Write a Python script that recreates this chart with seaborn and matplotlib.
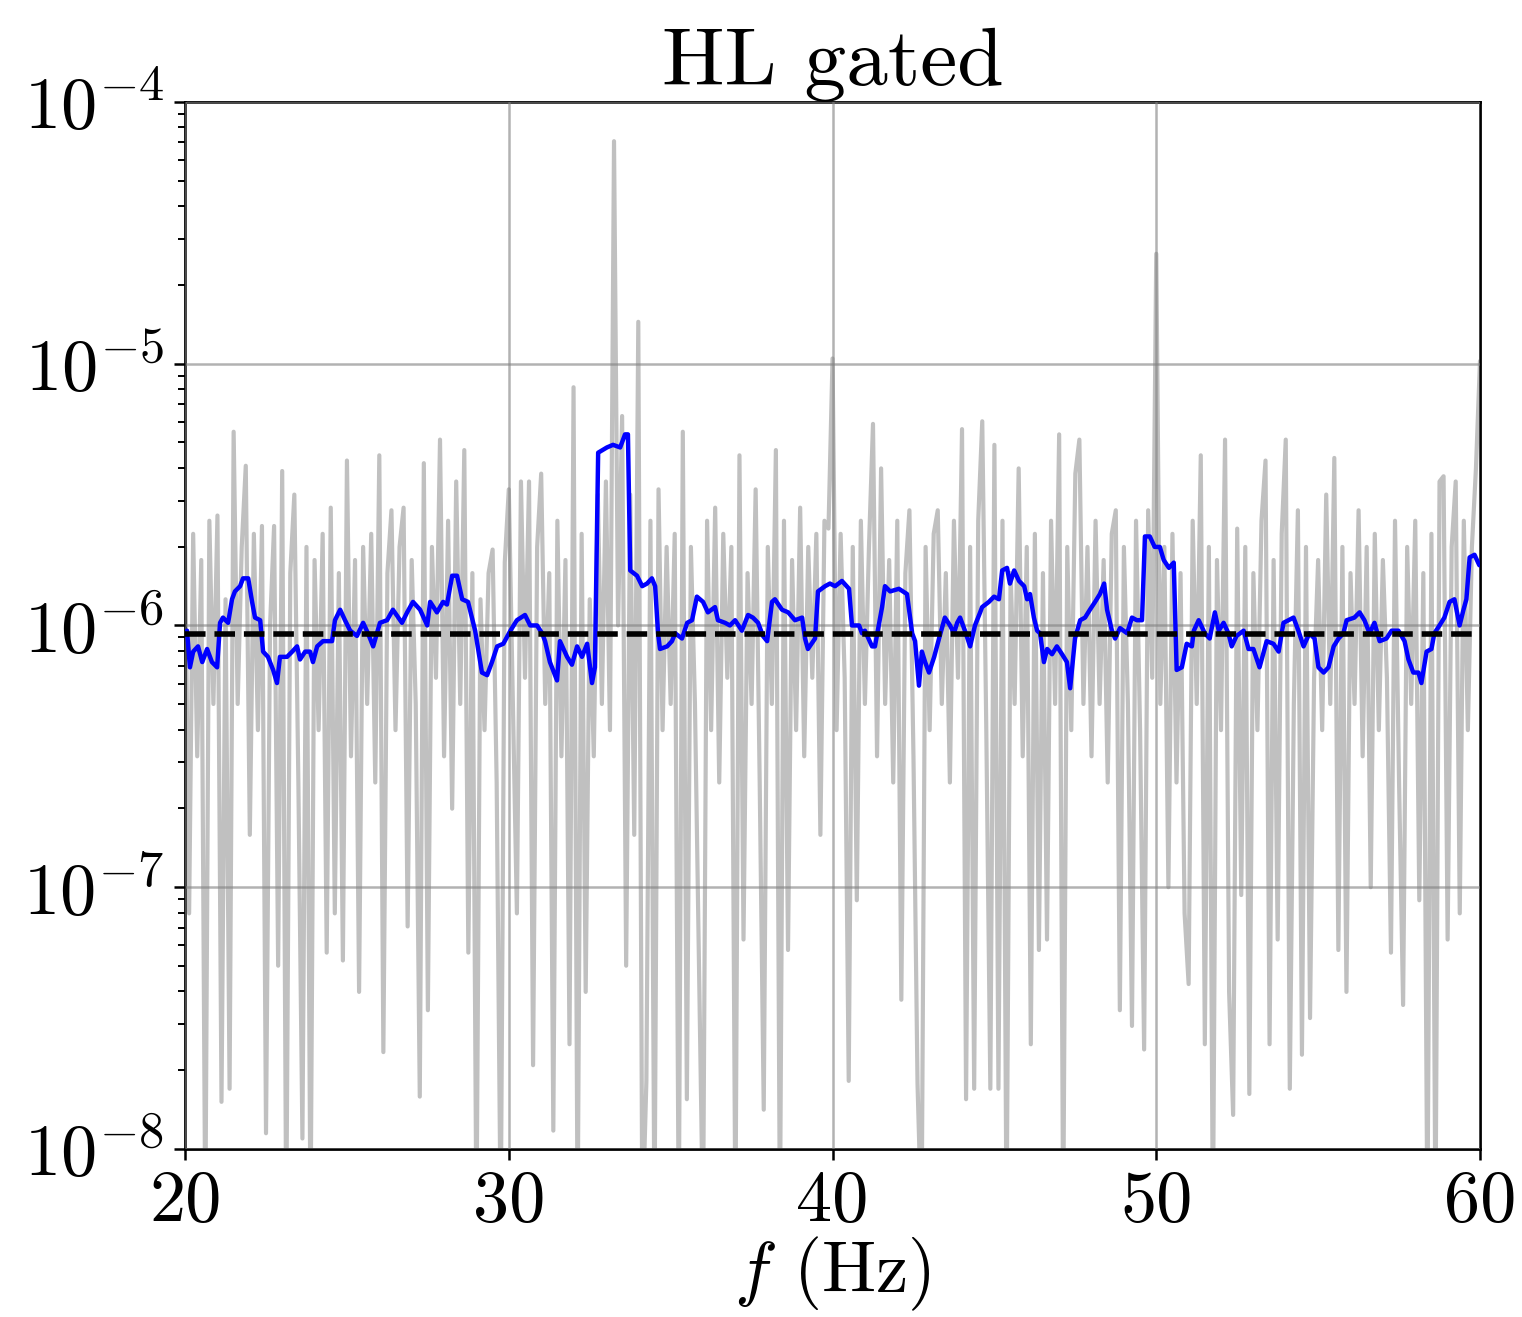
import numpy as np
import pandas as pd
import matplotlib
matplotlib.use("Agg")
import matplotlib.pyplot as plt
import seaborn as sns

# ---------------- data ----------------
# gray: log10 of spectrum, 8 samples per Hz from 20 Hz to 60 Hz
gray_log10 = [
    -5.70, -7.10, -5.65, -6.50, -5.75, -8.30, -5.60, -6.30,   # 20
    -5.58, -7.82, -5.90, -7.77, -5.26, -6.30, -5.70, -5.39,   # 21
    -6.80, -5.65, -6.40, -5.62, -7.94, -6.00, -5.62, -7.30,   # 22
    -5.41, -8.30, -5.80, -5.50, -6.60, -7.96, -5.70, -8.30,   # 23
    -5.75, -6.40, -5.65, -7.25, -5.55, -7.10, -5.80, -7.28,   # 24
    -5.37, -6.50, -5.75, -7.40, -5.70, -6.30, -5.65, -6.60,   # 25
    -5.35, -7.63, -5.80, -5.56, -6.40, -5.70, -5.55, -7.15,   # 26
    -5.75, -6.30, -7.80, -5.38, -7.47, -5.70, -6.20, -5.29,   # 27
    -6.50, -5.60, -6.70, -5.45, -6.30, -5.33, -7.25, -5.80,   # 28
    -8.30, -5.90, -6.40, -5.80, -5.71, -6.60, -8.30, -5.76,   # 29
    -5.48, -6.30, -7.10, -5.45, -6.20, -5.45, -7.68, -5.70,   # 30
    -5.42, -6.30, -5.80, -7.93, -5.60, -6.50, -5.75, -7.60,   # 31
    -5.09, -8.30, -5.65, -7.40, -5.90, -6.50, -5.50, -6.30,   # 32
    -5.45, -6.40, -4.15, -6.00, -5.20, -7.30, -5.50, -6.80,   # 33
    -4.84, -8.30, -7.74, -5.60, -8.30, -5.48, -6.40, -5.70,   # 34
    -6.30, -5.65, -8.30, -5.26, -7.81, -5.70, -6.30, -7.30,   # 35
    -8.30, -5.60, -6.40, -5.55, -6.60, -5.65, -6.20, -5.70,   # 36
    -8.30, -5.35, -7.20, -5.80, -6.30, -5.48, -6.60, -7.85,   # 37
    -5.70, -6.30, -5.33, -8.30, -5.60, -7.24, -5.75, -6.40,   # 38
    -5.55, -6.50, -5.70, -6.20, -5.65, -6.80, -5.60, -5.63,   # 39
    -4.98, -6.40, -5.65, -6.20, -7.74, -5.70, -7.05, -5.60,   # 40
    -6.30, -5.70, -5.23, -6.50, -5.40, -6.30, -5.75, -6.60,   # 41
    -5.60, -7.43, -5.80, -5.56, -6.50, -7.75, -8.30, -5.70,   # 42
    -6.40, -5.65, -5.56, -6.30, -5.80, -6.60, -5.60, -6.20,   # 43
    -5.25, -7.81, -5.70, -7.77, -5.60, -5.22, -6.40, -7.77,   # 44
    -5.31, -7.77, -5.60, -8.30, -5.80, -6.30, -5.40, -6.50,   # 45
    -5.70, -7.60, -5.65, -7.24, -5.80, -7.20, -5.60, -6.30,   # 46
    -5.27, -8.30, -5.70, -6.40, -5.42, -5.29, -6.30, -5.70,   # 47
    -6.50, -5.60, -6.30, -5.75, -6.60, -5.65, -5.56, -7.47,   # 48
    -5.70, -6.30, -7.53, -5.60, -6.40, -7.62, -5.56, -6.20,   # 49
    -4.58, -6.30, -5.70, -7.00, -5.65, -6.60, -5.80, -7.10,   # 50
    -7.37, -5.60, -6.30, -5.35, -7.60, -5.70, -8.30, -5.75,   # 51
    -6.40, -5.29, -7.40, -7.87, -5.63, -7.03, -5.70, -7.79,   # 52
    -5.80, -6.40, -5.60, -5.37, -7.60, -5.75, -7.20, -5.65,   # 53
    -5.29, -7.77, -6.30, -5.56, -7.64, -5.70, -7.50, -6.20,   # 54
    -5.75, -6.40, -5.50, -6.30, -5.36, -7.24, -5.70, -7.40,   # 55
    -5.80, -6.30, -5.56, -6.50, -5.70, -7.00, -5.65, -6.40,   # 56
    -5.75, -6.20, -7.25, -5.60, -6.60, -7.45, -5.70, -6.30,   # 57
    -5.60, -7.05, -5.80, -8.30, -5.65, -8.30, -5.45, -5.43,   # 58
    -7.20, -5.70, -5.45, -7.10, -5.60, -6.40, -5.70, -5.40,   # 59
    -4.99,                                                     # 60
]
gray_freq = np.linspace(20.0, 60.0, len(gray_log10))

# blue: running average (frequency in Hz, log10 value)
blue_freq = [
    20.06, 20.15, 20.25, 20.40, 20.53, 20.68, 20.83, 20.99, 21.08, 21.17,
    21.33, 21.45, 21.54, 21.70, 21.79, 21.95, 22.07, 22.16, 22.32, 22.41,
    22.56, 22.72, 22.84, 22.93, 23.15, 23.31, 23.46, 23.55, 23.71, 23.86,
    23.95, 24.08, 24.26, 24.54, 24.63, 24.79, 24.94, 25.10, 25.31, 25.50,
    25.65, 25.81, 26.02, 26.24, 26.42, 26.70, 26.86, 27.04, 27.26, 27.48,
    27.57, 27.78, 27.97, 28.09, 28.25, 28.40, 28.56, 28.74, 28.96, 29.17,
    29.33, 29.48, 29.64, 29.83, 30.05, 30.25, 30.50, 30.66, 30.87, 31.03,
    31.12, 31.27, 31.49, 31.58, 31.80, 31.95, 32.11, 32.26, 32.42, 32.57,
    32.66, 32.76, 33.03, 33.22, 33.44, 33.59, 33.68, 33.75, 33.96, 34.12,
    34.27, 34.42, 34.52, 34.61, 34.67, 34.89, 35.04, 35.14, 35.35, 35.51,
    35.66, 35.81, 36.00, 36.15, 36.37, 36.46, 36.68, 36.83, 36.99, 37.20,
    37.39, 37.54, 37.70, 37.85, 37.98, 38.13, 38.22, 38.44, 38.63, 38.84,
    39.06, 39.15, 39.24, 39.46, 39.55, 39.77, 39.92, 40.08, 40.29, 40.51,
    40.60, 40.82, 40.91, 41.00, 41.22, 41.31, 41.53, 41.62, 41.78, 42.05,
    42.30, 42.46, 42.55, 42.67, 42.76, 42.86, 42.98, 43.14, 43.29, 43.47,
    43.63, 43.75, 43.85, 43.94, 44.09, 44.25, 44.40, 44.56, 44.62, 44.83,
    44.99, 45.14, 45.24, 45.39, 45.48, 45.61, 45.76, 45.92, 46.01, 46.10,
    46.22, 46.32, 46.41, 46.53, 46.63, 46.78, 46.93, 47.09, 47.24, 47.34,
    47.49, 47.65, 47.80, 47.95, 48.11, 48.26, 48.39, 48.48, 48.63, 48.73,
    48.88, 49.10, 49.25, 49.40, 49.56, 49.65, 49.80, 49.95, 50.11, 50.23,
    50.39, 50.54, 50.63, 50.79, 50.94, 51.10, 51.16, 51.31, 51.50, 51.65,
    51.81, 51.93, 52.08, 52.23, 52.33, 52.48, 52.70, 52.85, 53.00, 53.19,
    53.41, 53.62, 53.78, 53.93, 54.24, 54.39, 54.55, 54.73, 54.89, 55.01,
    55.17, 55.32, 55.48, 55.63, 55.78, 55.88, 56.12, 56.28, 56.43, 56.59,
    56.74, 56.90, 57.11, 57.27, 57.48, 57.67, 57.79, 57.94, 58.10, 58.19,
    58.35, 58.50, 58.59, 58.75, 58.90, 59.06, 59.21, 59.37, 59.49, 59.58,
    59.68, 59.83, 59.98,
]
blue_log10 = [
    -6.02, -6.16, -6.10, -6.08, -6.14, -6.09, -6.14, -6.16, -5.99, -5.97,
    -5.99, -5.90, -5.87, -5.85, -5.82, -5.82, -5.91, -5.97, -5.98, -6.10,
    -6.12, -6.17, -6.22, -6.12, -6.12, -6.10, -6.08, -6.13, -6.10, -6.10,
    -6.14, -6.08, -6.06, -6.06, -5.98, -5.94, -5.98, -6.02, -6.04, -5.99,
    -6.03, -6.08, -5.99, -5.98, -5.94, -5.99, -5.95, -5.91, -5.94, -6.00,
    -5.91, -5.95, -5.91, -5.92, -5.81, -5.81, -5.90, -5.91, -6.02, -6.18,
    -6.19, -6.14, -6.08, -6.07, -6.02, -5.98, -5.96, -6.00, -6.00, -6.03,
    -6.06, -6.14, -6.21, -6.06, -6.12, -6.15, -6.08, -6.12, -6.07, -6.22,
    -6.16, -5.34, -5.32, -5.31, -5.32, -5.27, -5.27, -5.79, -5.81, -5.85,
    -5.84, -5.82, -5.85, -6.03, -6.09, -6.08, -6.06, -6.03, -6.05, -5.99,
    -5.98, -5.89, -5.91, -5.95, -5.93, -5.98, -5.99, -6.00, -5.98, -6.02,
    -5.96, -5.97, -5.99, -6.04, -6.06, -5.91, -5.90, -5.94, -5.95, -5.98,
    -5.97, -6.05, -6.09, -6.05, -5.87, -5.85, -5.84, -5.85, -5.83, -5.86,
    -6.00, -6.00, -6.03, -6.02, -6.08, -6.08, -5.93, -5.85, -5.87, -5.86,
    -5.88, -6.03, -6.06, -6.23, -6.10, -6.14, -6.18, -6.12, -6.05, -5.97,
    -6.00, -6.03, -5.99, -5.97, -6.02, -6.08, -6.00, -5.95, -5.93, -5.91,
    -5.89, -5.90, -5.79, -5.78, -5.84, -5.79, -5.83, -5.85, -5.90, -5.88,
    -5.97, -6.02, -6.03, -6.14, -6.09, -6.11, -6.08, -6.11, -6.14, -6.24,
    -6.05, -5.98, -5.97, -5.94, -5.91, -5.88, -5.84, -5.94, -6.02, -6.05,
    -6.01, -6.03, -5.97, -5.98, -5.98, -5.66, -5.66, -5.70, -5.70, -5.75,
    -5.78, -5.76, -6.17, -6.16, -6.07, -6.08, -6.02, -5.98, -6.03, -6.05,
    -5.95, -6.02, -5.99, -6.03, -6.08, -6.04, -6.02, -6.09, -6.09, -6.16,
    -6.06, -6.07, -6.10, -5.99, -5.97, -6.02, -6.08, -6.03, -6.05, -6.16,
    -6.18, -6.16, -6.08, -6.05, -6.03, -5.98, -5.97, -5.95, -5.98, -6.03,
    -5.99, -6.06, -6.05, -6.02, -6.02, -6.06, -6.13, -6.18, -6.18, -6.22,
    -6.10, -6.09, -6.03, -6.00, -5.97, -5.91, -5.90, -6.00, -5.94, -5.90,
    -5.74, -5.73, -5.77,
]
threshold = 9.3e-7

title_text = "HL gated"
xlabel_text = r"$f$ (Hz)"
x_ticks = [20, 30, 40, 50, 60]

# ---------------- style ----------------
sns.set_style("white")
plt.rcParams["font.family"] = ["cmr10", "DejaVu Serif"]
plt.rcParams["mathtext.fontset"] = "cm"
plt.rcParams["axes.formatter.use_mathtext"] = True
plt.rcParams["axes.unicode_minus"] = False
plt.rcParams["text.color"] = "black"
plt.rcParams["axes.labelcolor"] = "black"
plt.rcParams["xtick.color"] = "black"
plt.rcParams["ytick.color"] = "black"

gray_df = pd.DataFrame({"f": gray_freq, "psd": 10.0 ** np.array(gray_log10)})
blue_df = pd.DataFrame({"f": blue_freq, "psd": 10.0 ** np.array(blue_log10)})

fig = plt.figure(figsize=(7.61, 6.585), dpi=200)
ax = fig.add_axes([0.1216, 0.1276, 0.9724 - 0.1216, 0.9226 - 0.1276])

sns.lineplot(data=gray_df, x="f", y="psd", ax=ax, color="#c0c0c0",
             linewidth=1.5, estimator=None, sort=False, zorder=1)
sns.lineplot(data=blue_df, x="f", y="psd", ax=ax, color="#0000ff",
             linewidth=1.6, estimator=None, sort=False, zorder=4)
ax.axhline(threshold, color="black", linestyle="--", linewidth=2.0, zorder=5)

ax.set_yscale("log")
ax.set_xlim(20, 60)
ax.set_ylim(1e-8, 1e-4)
ax.set_xticks(x_ticks)
ax.set_xticklabels([str(t) for t in x_ticks])

ax.grid(True, which="major", color="#808080", alpha=0.6, linewidth=0.9)
ax.set_axisbelow(False)
for s in ax.spines.values():
    s.set_color("black")
    s.set_linewidth(1.0)
    s.set_visible(True)

ax.tick_params(axis="both", which="major", labelsize=26, direction="out",
               length=4, width=0.9, bottom=True, left=True, top=False, right=False,
               colors="black")
ax.tick_params(axis="y", which="minor", length=2.5, width=0.7, left=True, right=False,
               colors="black")
ax.tick_params(axis="x", which="minor", bottom=False)

ax.set_title(title_text, fontsize=30, pad=6, color="black")
ax.set_xlabel(xlabel_text, fontsize=26, labelpad=0, color="black")
ax.set_ylabel("")

fig.savefig("out.png", dpi=200)
